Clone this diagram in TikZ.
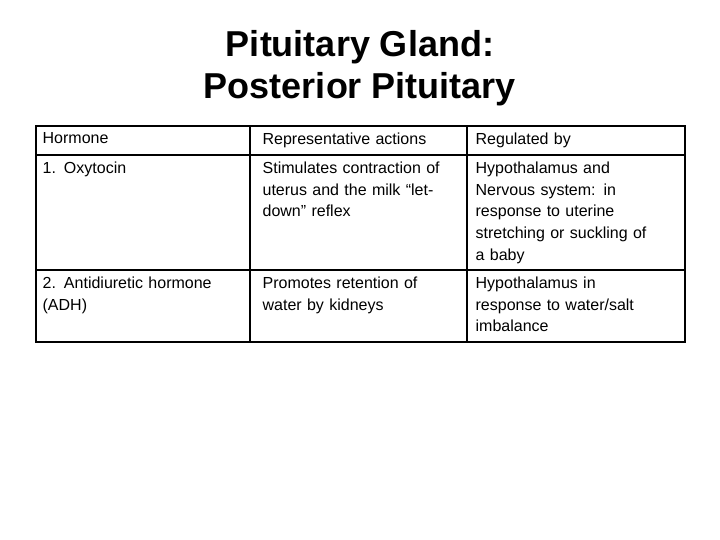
\documentclass[tikz,border=0pt]{standalone}
\usepackage{fontspec}
\setmainfont{Liberation Sans}
\begin{document}
\begin{tikzpicture}[
  x = 1pt, y = -1pt,
  cell/.style = {
    anchor = north west,
    align = left,
    inner sep = 0pt,
    font = \fontsize{16}{21.8}\selectfont,
  },
  title/.style = {
    align = center,
    font = \fontsize{36}{42}\selectfont\bfseries,
  },
  every path/.style = {
    line width = 1.3pt
  }
]
  \useasboundingbox (0, 0) rectangle (720, 540);

  \node[title] (T) at (360, 68) {Pituitary Gland:\\Posterior Pituitary};

  \draw (36, 126) rectangle (685, 342);
  \draw (250, 126) -- (250, 342);
  \draw (467, 126) -- (467, 342);
  \draw (36, 155) -- (685, 155);
  \draw (36, 270) -- (685, 270);

  \node[cell, text width = 200pt] (H0) at (42, 132) {Hormone};
  \node[cell, text width = 200pt] (A0) at (262, 132) {Representative actions};
  \node[cell, text width = 200pt] (R0) at (475, 132) {Regulated by};

  \node[cell, text width = 200pt] (H1) at (42, 161) {1.\enspace Oxytocin};
  \node[cell, text width = 200pt] (A1) at (262, 161) {Stimulates contraction of\\uterus and the milk “let-\\down” reflex};
  \node[cell, text width = 205pt] (R1) at (475, 161) {Hypothalamus and\\Nervous system: in\\response to uterine\\stretching or suckling of\\a baby};

  \node[cell, text width = 205pt] (H2) at (42, 276) {2. Antidiuretic hormone\\(ADH)};
  \node[cell, text width = 200pt] (A2) at (262, 276) {Promotes retention of\\water by kidneys};
  \node[cell, text width = 200pt] (R2) at (475, 276) {Hypothalamus in\\response to water/salt\\imbalance};
\end{tikzpicture}
\end{document}
